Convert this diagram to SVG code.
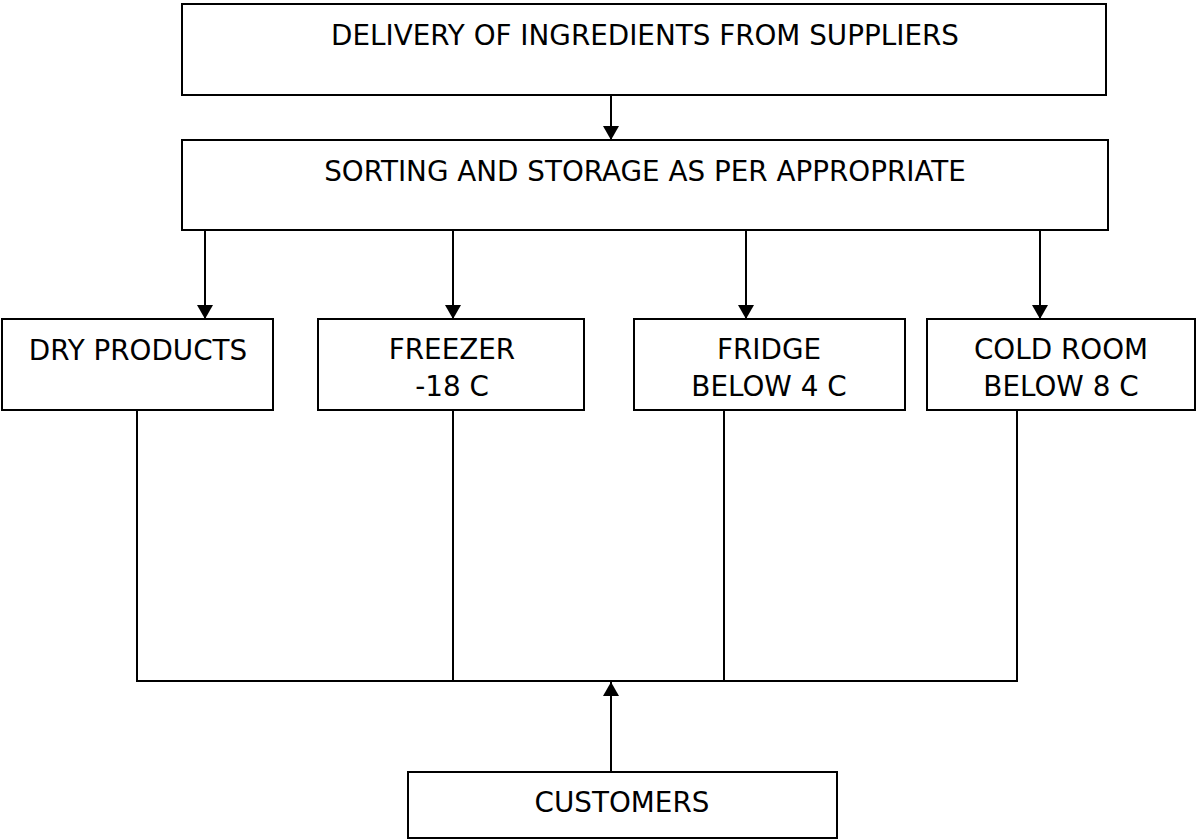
<svg xmlns="http://www.w3.org/2000/svg" width="1197" height="840" viewBox="0 0 1197 840">
<style>
.box{fill:#fff;stroke:#000;stroke-width:2}
.t{font-family:"DejaVu Sans",Verdana,sans-serif;font-size:27.8px;fill:#000;text-anchor:middle}
.c{fill:none;stroke:#000;stroke-width:2}
</style>
<defs>
<marker id="ah" viewBox="0 0 14 16" refX="14" refY="8" markerWidth="14" markerHeight="16" markerUnits="userSpaceOnUse" orient="auto">
<path d="M0,0 L14,8 L0,16 Z" fill="#000"/>
</marker>
</defs>
<rect width="1197" height="840" fill="#fff"/>
<g id="connectors">
<line class="c" x1="611" y1="95" x2="611" y2="140" marker-end="url(#ah)"/>
<line class="c" x1="205" y1="230" x2="205" y2="319" marker-end="url(#ah)"/>
<line class="c" x1="453" y1="230" x2="453" y2="319" marker-end="url(#ah)"/>
<line class="c" x1="746" y1="230" x2="746" y2="319" marker-end="url(#ah)"/>
<line class="c" x1="1040" y1="230" x2="1040" y2="319" marker-end="url(#ah)"/>
<polyline class="c" points="137,410 137,681 1017,681 1017,410"/>
<line class="c" x1="453" y1="410" x2="453" y2="681"/>
<line class="c" x1="724" y1="410" x2="724" y2="681"/>
<line class="c" x1="611" y1="772" x2="611" y2="682" marker-end="url(#ah)"/>
</g>
<g id="delivery">
<rect class="box" x="182" y="4" width="924" height="91"/>
<text class="t" x="645" y="45">DELIVERY OF INGREDIENTS FROM SUPPLIERS</text>
</g>
<g id="sorting">
<rect class="box" x="182" y="140" width="926" height="90"/>
<text class="t" x="645" y="181">SORTING AND STORAGE AS PER APPROPRIATE</text>
</g>
<g id="dry">
<rect class="box" x="2" y="319" width="271" height="91"/>
<text class="t" x="138" y="360">DRY PRODUCTS</text>
</g>
<g id="freezer">
<rect class="box" x="318" y="319" width="266" height="91"/>
<text class="t" x="452" y="359">FREEZER</text>
<text class="t" x="452" y="396">-18 C</text>
</g>
<g id="fridge">
<rect class="box" x="634" y="319" width="271" height="91"/>
<text class="t" x="769" y="359">FRIDGE</text>
<text class="t" x="769" y="396">BELOW 4 C</text>
</g>
<g id="coldroom">
<rect class="box" x="927" y="319" width="268" height="91"/>
<text class="t" x="1061" y="359">COLD ROOM</text>
<text class="t" x="1061" y="396">BELOW 8 C</text>
</g>
<g id="customers">
<rect class="box" x="408" y="772" width="429" height="66"/>
<text class="t" x="622" y="812">CUSTOMERS</text>
</g>
</svg>
